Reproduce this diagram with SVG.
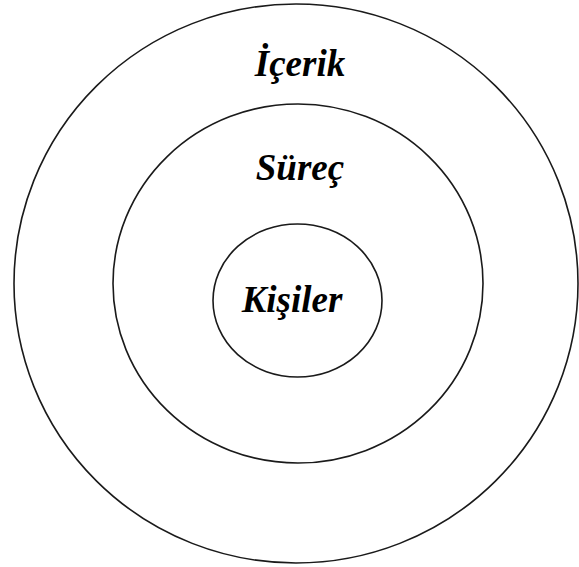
<svg xmlns="http://www.w3.org/2000/svg" width="579" height="567" viewBox="0 0 579 567">
<style>
.ring{fill:none;stroke:#1a1a1a;stroke-width:1.6}
.lbl{font-family:"Liberation Serif","Times New Roman",serif;font-weight:bold;font-style:italic;font-size:37px;fill:#000;text-anchor:middle}
</style>
<rect width="579" height="567" fill="#fff"/>
<g id="icerik">
<ellipse class="ring" cx="296" cy="283.5" rx="282" ry="279.5"/>
<text class="lbl" x="300" y="76">İçerik</text>
</g>
<g id="surec">
<ellipse class="ring" cx="298" cy="283.5" rx="185" ry="179.5"/>
<text class="lbl" x="300" y="180">Süreç</text>
</g>
<g id="kisiler">
<ellipse class="ring" cx="297.5" cy="300.5" rx="84.5" ry="76.5"/>
<text class="lbl" x="292" y="312">Kişiler</text>
</g>
<g id="connectors"/>
</svg>
